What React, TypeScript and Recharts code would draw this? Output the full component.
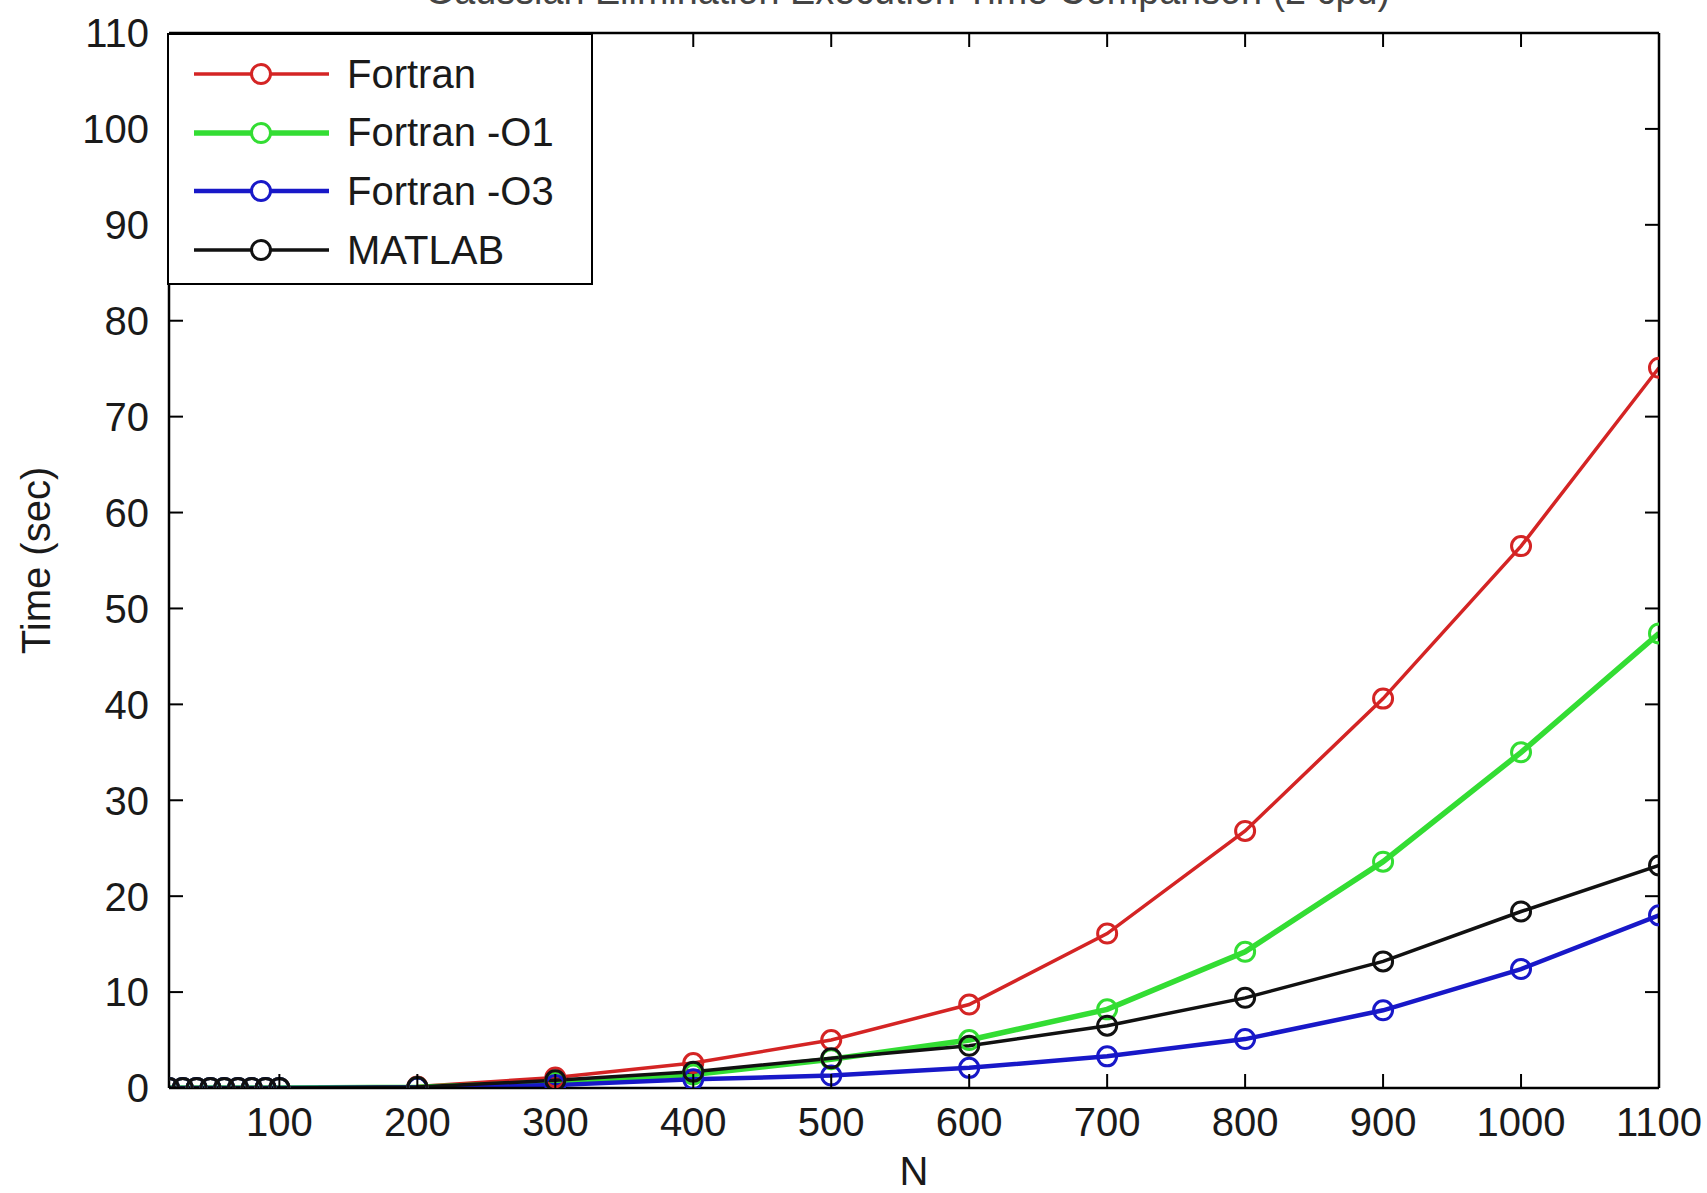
import React from 'react';
import { LineChart, Line, XAxis, YAxis } from 'recharts';

const nValues = [20, 30, 40, 50, 60, 70, 80, 90, 100, 200, 300, 400, 500, 600, 700, 800, 900, 1000, 1100];

const fortran = [0.001, 0.001, 0.002, 0.003, 0.004, 0.006, 0.008, 0.01, 0.012, 0.15, 1.1, 2.6, 5.0, 8.7, 16.1, 26.8, 40.6, 56.5, 75.1];
const fortranO1 = [0.001, 0.001, 0.001, 0.002, 0.003, 0.004, 0.005, 0.006, 0.008, 0.08, 0.6, 1.4, 3.0, 5.0, 8.2, 14.2, 23.6, 35.0, 47.4];
const fortranO3 = [0.0005, 0.001, 0.001, 0.001, 0.002, 0.002, 0.003, 0.004, 0.005, 0.04, 0.3, 0.9, 1.3, 2.1, 3.3, 5.1, 8.1, 12.4, 18.0];
const matlab = [0.002, 0.002, 0.003, 0.004, 0.005, 0.006, 0.008, 0.01, 0.012, 0.1, 0.8, 1.7, 3.1, 4.4, 6.5, 9.4, 13.2, 18.4, 23.2];

const xTicks = [100, 200, 300, 400, 500, 600, 700, 800, 900, 1000, 1100];
const yTicks = [0, 10, 20, 30, 40, 50, 60, 70, 80, 90, 100, 110];

const series = [
  { key: 'fortran', name: 'Fortran', color: '#d42424', width: 3.5 },
  { key: 'fortranO1', name: 'Fortran -O1', color: '#33dd33', width: 5.5 },
  { key: 'fortranO3', name: 'Fortran -O3', color: '#1818c8', width: 4.5 },
  { key: 'matlab', name: 'MATLAB', color: '#111111', width: 3.5 },
];

const data = nValues.map((n, i) => ({
  n,
  fortran: fortran[i],
  fortranO1: fortranO1[i],
  fortranO3: fortranO3[i],
  matlab: matlab[i],
}));

const FONT = '"Liberation Sans", Arial, sans-serif';
const TEXT = '#1a1a1a';
const TICK_LEN = 14;
const GAP = 20; // distance between axis line and tick label anchor

// inward tick marks (MATLAB style), drawn with the label relative to the tick anchor
const BottomTick = (props: any) => {
  const { x, y, payload } = props;
  return (
    <g>
      <line x1={x} y1={y - GAP} x2={x} y2={y - GAP - TICK_LEN} stroke="#000" strokeWidth={2} />
      <text x={x} y={y} dy="0.71em" textAnchor="middle" fill={TEXT} fontSize={40} fontFamily={FONT}>
        {payload.value}
      </text>
    </g>
  );
};

const LeftTick = (props: any) => {
  const { x, y, payload } = props;
  return (
    <g>
      <line x1={x + GAP} y1={y} x2={x + GAP + TICK_LEN} y2={y} stroke="#000" strokeWidth={2} />
      <text x={x} y={y} dy="0.36em" textAnchor="end" fill={TEXT} fontSize={40} fontFamily={FONT}>
        {payload.value}
      </text>
    </g>
  );
};

const TopTick = (props: any) => {
  const { x, y } = props;
  return <line x1={x} y1={y + GAP} x2={x} y2={y + GAP + TICK_LEN} stroke="#000" strokeWidth={2} />;
};

const RightTick = (props: any) => {
  const { x, y } = props;
  return <line x1={x - GAP} y1={y} x2={x - GAP - TICK_LEN} y2={y} stroke="#000" strokeWidth={2} />;
};

const axisLine = { stroke: '#000', strokeWidth: 2.5 };

const App: React.FC = () => {
  return (
    <div style={{ position: 'absolute', left: 0, top: 0, width: 1707, height: 1193, overflow: 'hidden', background: '#fff' }}>
      <LineChart width={1707} height={1193} data={data} margin={{ top: 0, right: 0, bottom: 0, left: 0 }}>
        <XAxis
          dataKey="n"
          type="number"
          domain={[20, 1100]}
          ticks={xTicks}
          allowDataOverflow
          height={105}
          tickSize={0}
          tickMargin={GAP}
          tickLine={false}
          tick={<BottomTick />}
          axisLine={axisLine}
          label={{ value: 'N', position: 'insideBottom', offset: 8, style: { fill: TEXT, fontSize: 40, fontFamily: FONT } }}
        />
        <XAxis
          xAxisId="top"
          orientation="top"
          dataKey="n"
          type="number"
          domain={[20, 1100]}
          ticks={xTicks}
          allowDataOverflow
          height={33}
          tickSize={0}
          tickMargin={GAP}
          tickLine={false}
          tick={<TopTick />}
          axisLine={axisLine}
        />
        <YAxis
          type="number"
          domain={[0, 110]}
          ticks={yTicks}
          allowDataOverflow
          width={169}
          tickSize={0}
          tickMargin={GAP}
          tickLine={false}
          tick={<LeftTick />}
          axisLine={axisLine}
          label={{
            value: 'Time (sec)',
            angle: -90,
            position: 'insideLeft',
            offset: 36,
            style: { fill: TEXT, fontSize: 40, fontFamily: FONT, textAnchor: 'middle' },
          }}
        />
        <YAxis
          yAxisId="right"
          orientation="right"
          type="number"
          domain={[0, 110]}
          ticks={yTicks}
          allowDataOverflow
          width={48}
          tickSize={0}
          tickMargin={GAP}
          tickLine={false}
          tick={<RightTick />}
          axisLine={axisLine}
        />
        {series.map((s) => (
          <Line
            key={s.key}
            type="linear"
            dataKey={s.key}
            name={s.name}
            stroke={s.color}
            strokeWidth={s.width}
            dot={{ r: 9.5, fill: 'none', stroke: s.color, strokeWidth: 3 }}
            isAnimationActive={false}
          />
        ))}
      </LineChart>

      {/* title, mostly cut off by the top edge as in the original */}
      <svg width={1707} height={40} style={{ position: 'absolute', left: 0, top: 0 }}>
        <text
          x={425}
          y={4}
          textLength={965}
          lengthAdjust="spacingAndGlyphs"
          fill="#444"
          fontSize={40}
          fontFamily={FONT}
        >
          Gaussian Elimination Execution Time Comparison (2 cpu)
        </text>
      </svg>

      {/* legend box, upper left */}
      <div
        style={{
          position: 'absolute',
          left: 167,
          top: 33,
          width: 422,
          height: 248,
          border: '2px solid #000',
          background: '#fff',
          fontFamily: FONT,
          fontSize: 40,
          color: TEXT,
        }}
      >
        {series.map((s, i) => (
          <div key={s.key} style={{ position: 'absolute', left: 0, top: 39 + i * 58.7 - 25, height: 50, display: 'flex', alignItems: 'center' }}>
            <svg width={170} height={50} style={{ display: 'block' }}>
              <line x1={25} y1={25} x2={160} y2={25} stroke={s.color} strokeWidth={s.width} />
              <circle cx={92} cy={25} r={9.5} fill="#fff" stroke={s.color} strokeWidth={3} />
            </svg>
            <span style={{ marginLeft: 8, whiteSpace: 'nowrap' }}>{s.name}</span>
          </div>
        ))}
      </div>
    </div>
  );
};

export default App;
